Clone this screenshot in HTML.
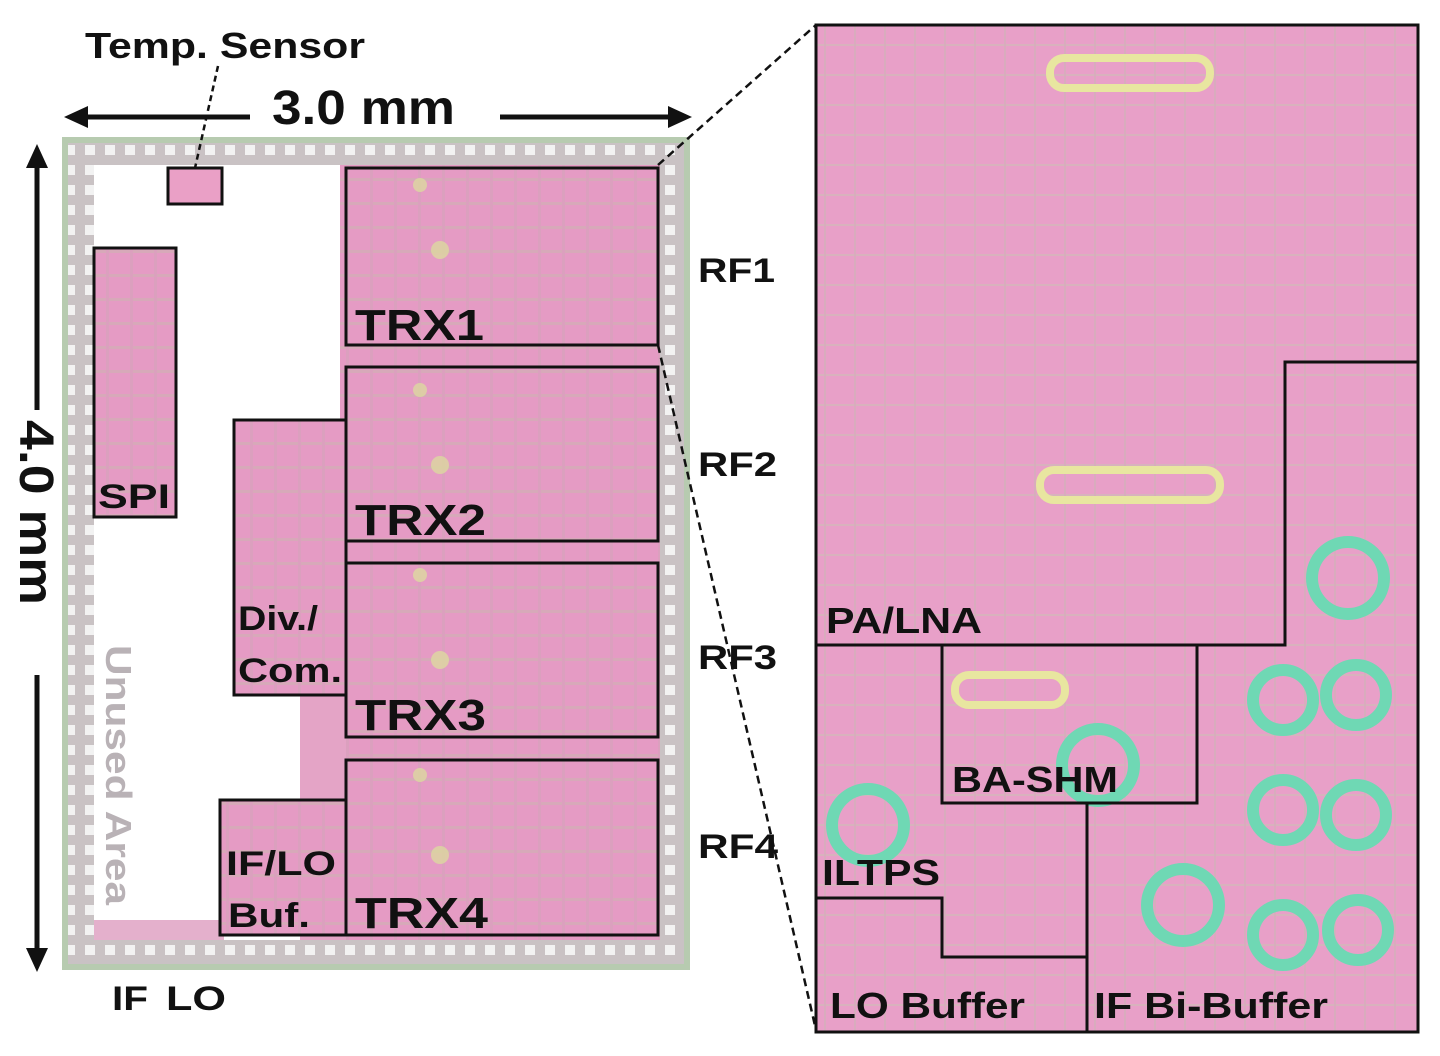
<!DOCTYPE html>
<html><head><meta charset="utf-8"><style>
html,body{margin:0;padding:0;background:#fff;}
svg{display:block;}
text{font-family:"Liberation Sans",Arial,sans-serif;font-weight:bold;fill:#111;}
</style></head><body>
<svg width="1440" height="1056" viewBox="0 0 1440 1056" xmlns="http://www.w3.org/2000/svg">
<defs>
<pattern id="pads" width="20" height="20" patternUnits="userSpaceOnUse">
<rect width="20" height="20" fill="#c9c2c4"/><rect x="5" y="5" width="10" height="10" fill="#f2f2f2"/>
</pattern>
<pattern id="tex" width="24" height="24" patternUnits="userSpaceOnUse">
<rect width="24" height="24" fill="#e59bc4"/><rect x="0" y="10" width="24" height="3" fill="#d7a9b9"/><rect x="10" y="0" width="3" height="24" fill="#dba0be"/>
</pattern>
<pattern id="tex2" width="30" height="30" patternUnits="userSpaceOnUse">
<rect width="30" height="30" fill="#e8a0c8"/><rect x="0" y="14" width="30" height="2" fill="#d8b2bd"/><rect x="14" y="0" width="2" height="30" fill="#d8acbd"/>
</pattern>
</defs>

<rect x="62" y="137" width="628" height="833" fill="#b7cbb0"/>
<rect x="68" y="143" width="616" height="821" fill="url(#pads)"/>
<rect x="94" y="165" width="566" height="775" fill="#fff"/>
<rect x="340" y="165" width="320" height="775" fill="url(#tex)"/>
<rect x="300" y="695" width="46" height="245" fill="#e4a4c6"/>
<rect x="94" y="920" width="130" height="20" fill="#e4b0cc"/>
<rect x="168" y="168" width="54" height="36" fill="#eaa0c6" stroke="#111" stroke-width="3"/>
<rect x="94" y="248" width="82" height="269" fill="url(#tex)" stroke="#111" stroke-width="3"/>
<rect x="234" y="420" width="112" height="275" fill="url(#tex)" stroke="#111" stroke-width="3"/>
<rect x="220" y="800" width="126" height="135" fill="url(#tex)" stroke="#111" stroke-width="3"/>
<g fill="#ddd9a0" opacity="0.8">
<circle cx="440" cy="250" r="9"/><circle cx="440" cy="465" r="9"/><circle cx="440" cy="660" r="9"/><circle cx="440" cy="855" r="9"/>
<circle cx="420" cy="185" r="7"/><circle cx="420" cy="390" r="7"/><circle cx="420" cy="575" r="7"/><circle cx="420" cy="775" r="7"/>
</g>
<g fill="none" stroke="#111" stroke-width="3">
<rect x="346" y="168" width="312" height="177"/>
<rect x="346" y="367" width="312" height="174"/>
<rect x="346" y="563" width="312" height="174"/>
<rect x="346" y="760" width="312" height="175"/>
</g>
<text x="355" y="340" font-size="44" textLength="129" lengthAdjust="spacingAndGlyphs">TRX1</text>
<text x="355" y="535" font-size="44" textLength="131" lengthAdjust="spacingAndGlyphs">TRX2</text>
<text x="355" y="730" font-size="44" textLength="131" lengthAdjust="spacingAndGlyphs">TRX3</text>
<text x="355" y="928" font-size="44" textLength="133" lengthAdjust="spacingAndGlyphs">TRX4</text>
<text x="98" y="508" font-size="34" textLength="72" lengthAdjust="spacingAndGlyphs">SPI</text>
<text x="238" y="630" font-size="34" textLength="80" lengthAdjust="spacingAndGlyphs">Div./</text>
<text x="238" y="682" font-size="34" textLength="104" lengthAdjust="spacingAndGlyphs">Com.</text>
<text x="226" y="875" font-size="34" textLength="110" lengthAdjust="spacingAndGlyphs">IF/LO</text>
<text x="228" y="927" font-size="34" textLength="82" lengthAdjust="spacingAndGlyphs">Buf.</text>
<text transform="translate(106,645) rotate(90)" font-size="36" textLength="260" lengthAdjust="spacingAndGlyphs" style="fill:#b9b2b6">Unused Area</text>

<text x="85" y="58" font-size="36" textLength="280" lengthAdjust="spacingAndGlyphs">Temp. Sensor</text>
<line x1="218" y1="66" x2="195" y2="168" stroke="#111" stroke-width="2.5" stroke-dasharray="6,4"/>
<text x="272" y="124" font-size="48" textLength="183" lengthAdjust="spacingAndGlyphs">3.0 mm</text>
<line x1="80" y1="117" x2="250" y2="117" stroke="#111" stroke-width="5"/>
<polygon points="64,117 88,106 88,128" fill="#111"/>
<line x1="500" y1="117" x2="676" y2="117" stroke="#111" stroke-width="5"/>
<polygon points="692,117 668,106 668,128" fill="#111"/>
<line x1="37" y1="160" x2="37" y2="410" stroke="#111" stroke-width="5"/>
<polygon points="37,144 26,168 48,168" fill="#111"/>
<line x1="37" y1="675" x2="37" y2="956" stroke="#111" stroke-width="5"/>
<polygon points="37,972 26,948 48,948" fill="#111"/>
<text transform="translate(20,420) rotate(90)" font-size="48" textLength="185" lengthAdjust="spacingAndGlyphs">4.0 mm</text>
<text x="698" y="282" font-size="34" textLength="77" lengthAdjust="spacingAndGlyphs">RF1</text>
<text x="698" y="476" font-size="34" textLength="79" lengthAdjust="spacingAndGlyphs">RF2</text>
<text x="698" y="669" font-size="34" textLength="79" lengthAdjust="spacingAndGlyphs">RF3</text>
<text x="698" y="858" font-size="34" textLength="80" lengthAdjust="spacingAndGlyphs">RF4</text>
<text x="112" y="1010" font-size="34" textLength="36" lengthAdjust="spacingAndGlyphs">IF</text>
<text x="166" y="1010" font-size="34" textLength="60" lengthAdjust="spacingAndGlyphs">LO</text>

<line x1="658" y1="165" x2="816" y2="25" stroke="#111" stroke-width="2.5" stroke-dasharray="8,5"/>
<line x1="658" y1="345" x2="816" y2="1030" stroke="#111" stroke-width="2.5" stroke-dasharray="8,5"/>

<rect x="816" y="25" width="602" height="1007" fill="url(#tex2)"/>
<g fill="none" stroke="#e8e6a0" stroke-width="8">
<rect x="1050" y="58" width="160" height="30" rx="14"/>
<rect x="1040" y="470" width="180" height="30" rx="14"/>
<rect x="955" y="675" width="110" height="30" rx="14"/>
</g>
<g fill="none" stroke="#6fd8b4" stroke-width="12">
<circle cx="1348" cy="578" r="36"/><circle cx="1283" cy="700" r="30"/><circle cx="1356" cy="695" r="30"/>
<circle cx="1283" cy="810" r="30"/><circle cx="1356" cy="815" r="30"/><circle cx="1183" cy="905" r="36"/>
<circle cx="1283" cy="935" r="30"/><circle cx="1358" cy="930" r="30"/><circle cx="868" cy="825" r="36"/><circle cx="1098" cy="765" r="36"/>
</g>
<g fill="none" stroke="#111" stroke-width="3">
<rect x="816" y="25" width="602" height="1007"/>
<polyline points="816,645 1285,645 1285,362 1418,362"/>
<rect x="942" y="645" width="255" height="158"/>
<polyline points="816,898 942,898 942,957 1087,957"/>
<line x1="1087" y1="803" x2="1087" y2="1032"/>
</g>
<text x="826" y="633" font-size="36" textLength="156" lengthAdjust="spacingAndGlyphs">PA/LNA</text>
<text x="952" y="792" font-size="36" textLength="166" lengthAdjust="spacingAndGlyphs">BA-SHM</text>
<text x="822" y="885" font-size="36" textLength="118" lengthAdjust="spacingAndGlyphs">ILTPS</text>
<text x="830" y="1018" font-size="36" textLength="195" lengthAdjust="spacingAndGlyphs">LO Buffer</text>
<text x="1094" y="1018" font-size="36" textLength="234" lengthAdjust="spacingAndGlyphs">IF Bi-Buffer</text>
</svg>
</body></html>
